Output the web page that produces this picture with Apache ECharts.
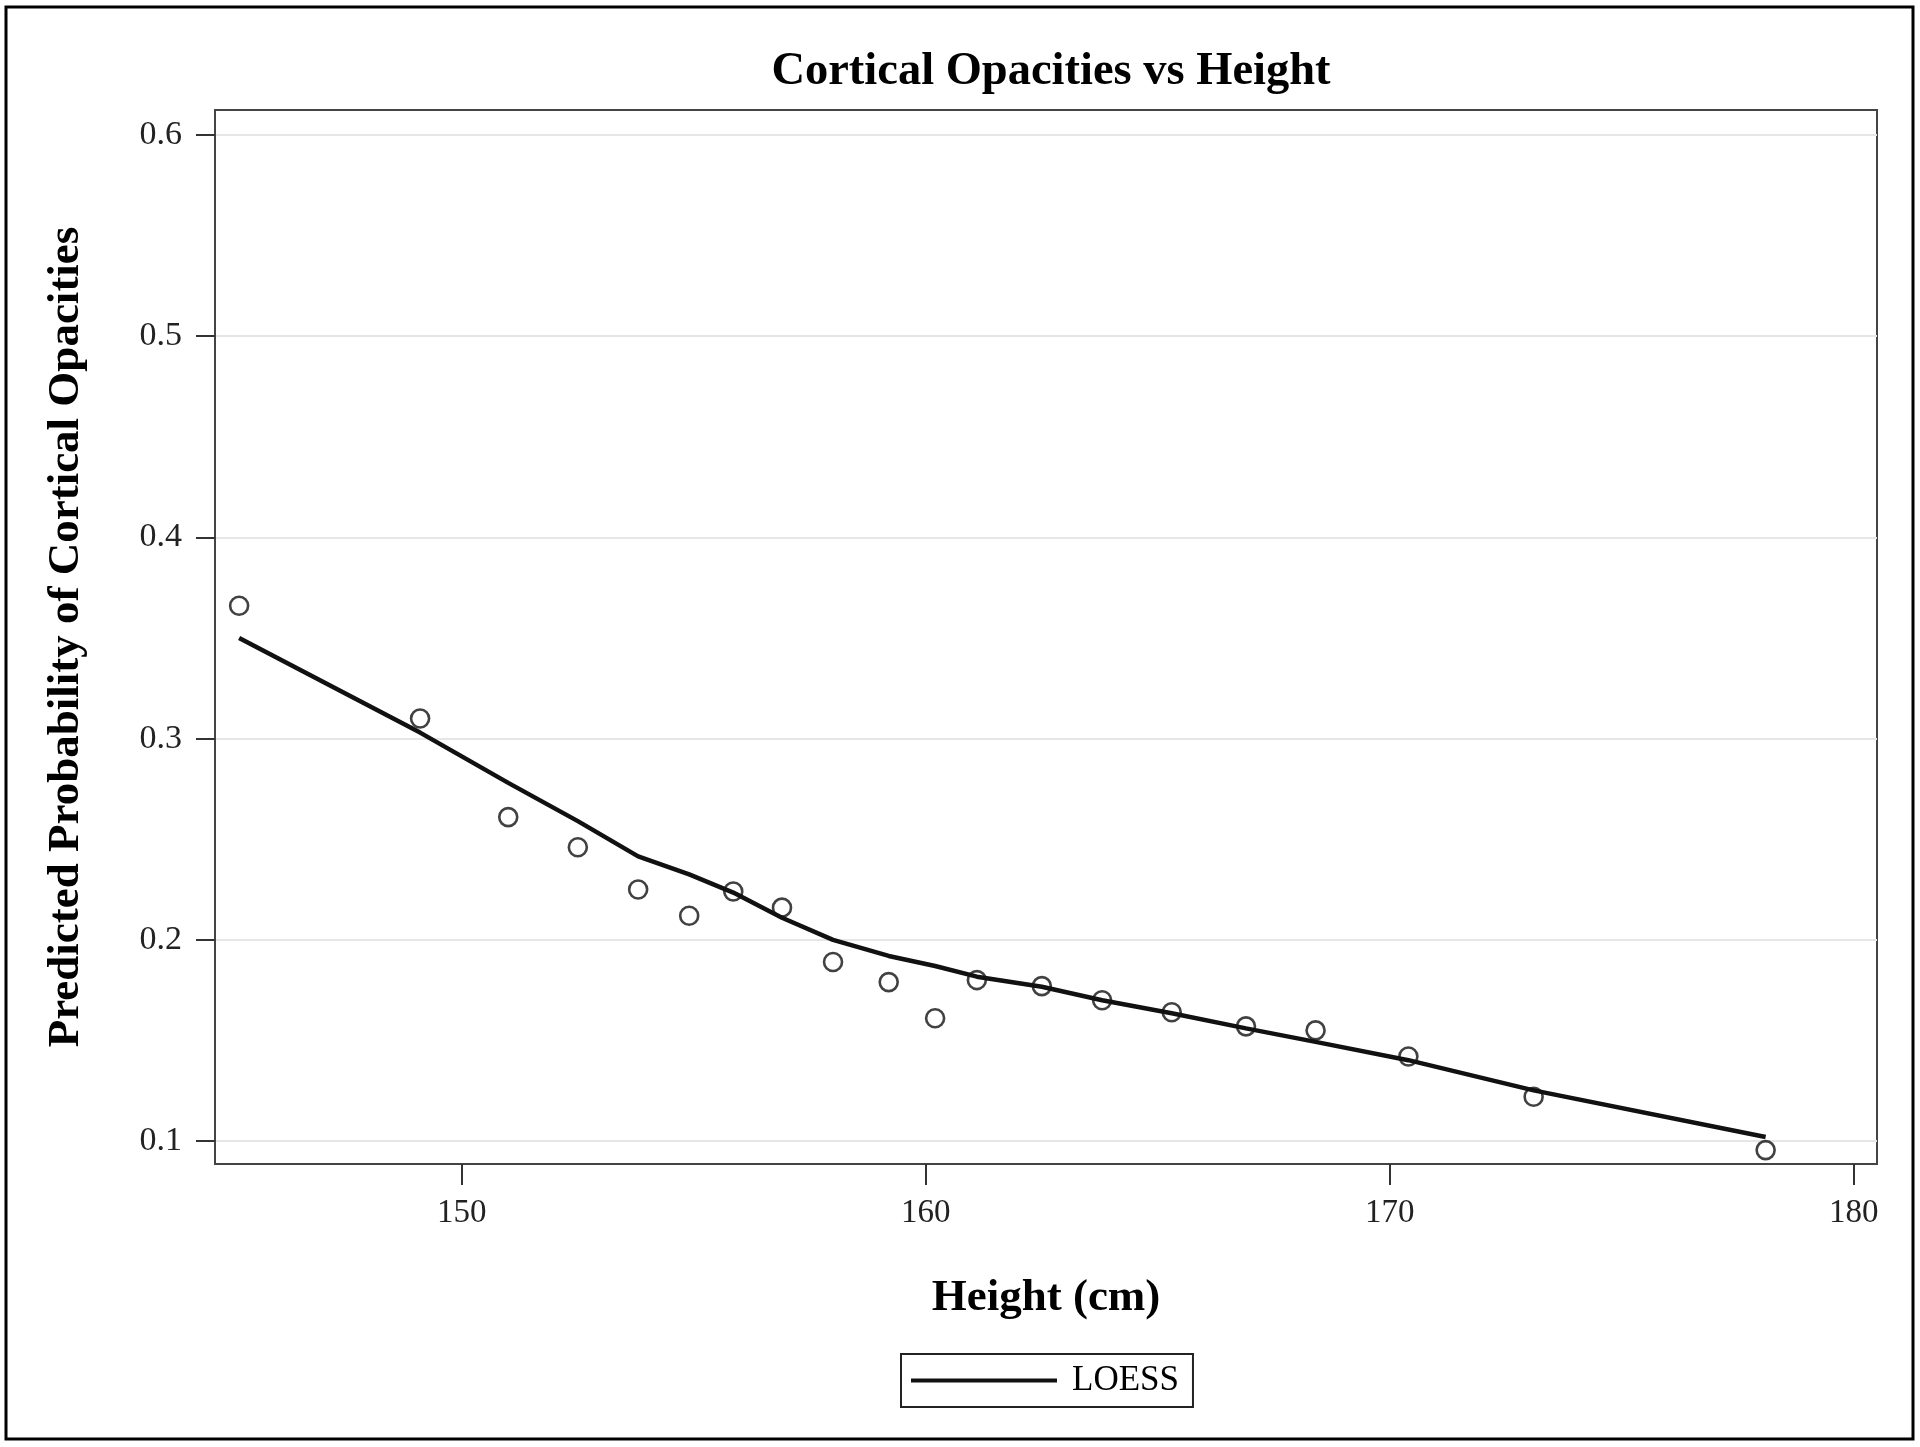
<!DOCTYPE html>
<html>
<head>
<meta charset="utf-8">
<script src="https://cdn.jsdelivr.net/npm/echarts@6/dist/echarts.min.js"></script>
<style>
html,body{margin:0;padding:0;background:#fff;}
#chart{width:1920px;height:1447px;}
</style>
</head>
<body>
<div id="chart"></div>
<script>
// Observed points (height in cm, predicted probability)
const heights = [145.2, 149.1, 151.0, 152.5, 153.8, 154.9, 155.85, 156.9, 158.0, 159.2, 160.2, 161.1, 162.5, 163.8, 165.3, 166.9, 168.4, 170.4, 173.1, 178.1];
const probs   = [0.366, 0.310, 0.261, 0.246, 0.225, 0.212, 0.224, 0.216, 0.189, 0.179, 0.161, 0.180, 0.177, 0.170, 0.164, 0.157, 0.155, 0.142, 0.122, 0.0955];
// LOESS fit evaluated at the same heights
const loess   = [0.350, 0.303, 0.278, 0.259, 0.2415, 0.2325, 0.2235, 0.211, 0.200, 0.192, 0.187, 0.1817, 0.1767, 0.170, 0.1635, 0.156, 0.1493, 0.1402, 0.1252, 0.102];
const xTicks = [150, 160, 170, 180];
const yTicks = [0.1, 0.2, 0.3, 0.4, 0.5, 0.6];

const FONT = "'Liberation Serif','Times New Roman',serif";
const chart = echarts.init(document.getElementById('chart'));
chart.setOption({
  backgroundColor: '#fff',
  animation: false,
  title: {
    text: 'Cortical Opacities vs Height',
    left: 1046, textAlign: 'center', top: 43,
    textStyle: {fontFamily: FONT, fontSize: 46.5, fontWeight: 'bold', color: '#000'}
  },
  legend: {
    data: [{name: 'LOESS', icon: 'rect'}],
    left: 901, top: 1354,
    itemWidth: 146, itemHeight: 4,
    padding: [9, 14, 9, 10],
    borderColor: '#222', borderWidth: 2, borderRadius: 0,
    textStyle: {fontFamily: FONT, fontSize: 35, color: '#000', padding: [0, 0, 0, 10]}
  },
  grid: {
    left: 215, right: 43, top: 110, bottom: 283,
    show: true, borderColor: '#444', borderWidth: 2, backgroundColor: '#fff'
  },
  xAxis: {
    type: 'value', min: 144.68, max: 180.5,
    name: 'Height (cm)', nameLocation: 'middle', nameGap: 112,
    nameTextStyle: {fontFamily: FONT, fontSize: 45, fontWeight: 'bold', color: '#000'},
    axisLine: {show: true, lineStyle: {color: '#444', width: 2}},
    axisTick: {show: true, length: 21, lineStyle: {color: '#333', width: 2}, customValues: xTicks},
    axisLabel: {fontFamily: FONT, fontSize: 33, color: '#222', margin: 33, customValues: xTicks},
    splitLine: {show: false}
  },
  yAxis: {
    type: 'value', min: 0.0886, max: 0.6124,
    name: 'Predicted Probability of Cortical Opacities', nameLocation: 'middle', nameGap: 126,
    nameTextStyle: {fontFamily: FONT, fontSize: 45, fontWeight: 'bold', color: '#000'},
    axisLine: {show: true, lineStyle: {color: '#444', width: 2}},
    axisTick: {show: true, length: 19, lineStyle: {color: '#333', width: 2}, customValues: yTicks},
    axisLabel: {fontFamily: FONT, fontSize: 34, color: '#222', margin: 33, customValues: yTicks,
      formatter: v => v.toFixed(1)},
    splitLine: {show: true, lineStyle: {color: '#e6e6e6', width: 2}}
  },
  graphic: [{
    type: 'rect', z: -1, silent: true,
    shape: {x: 6, y: 7, width: 1907, height: 1432},
    style: {fill: 'none', stroke: '#000', lineWidth: 3}
  }],
  series: [
    {
      name: 'Observed', type: 'scatter',
      data: heights.map((h, i) => [h, probs[i]]),
      symbol: 'circle', symbolSize: 18,
      itemStyle: {color: 'rgba(255,255,255,0)', borderColor: '#111', borderWidth: 2.6},
      z: 2
    },
    {
      name: 'LOESS', type: 'line',
      data: heights.map((h, i) => [h, loess[i]]),
      showSymbol: false, smooth: false,
      lineStyle: {color: '#111', width: 4.5},
      itemStyle: {color: '#111'},
      z: 3
    }
  ]
});
</script>
</body>
</html>
